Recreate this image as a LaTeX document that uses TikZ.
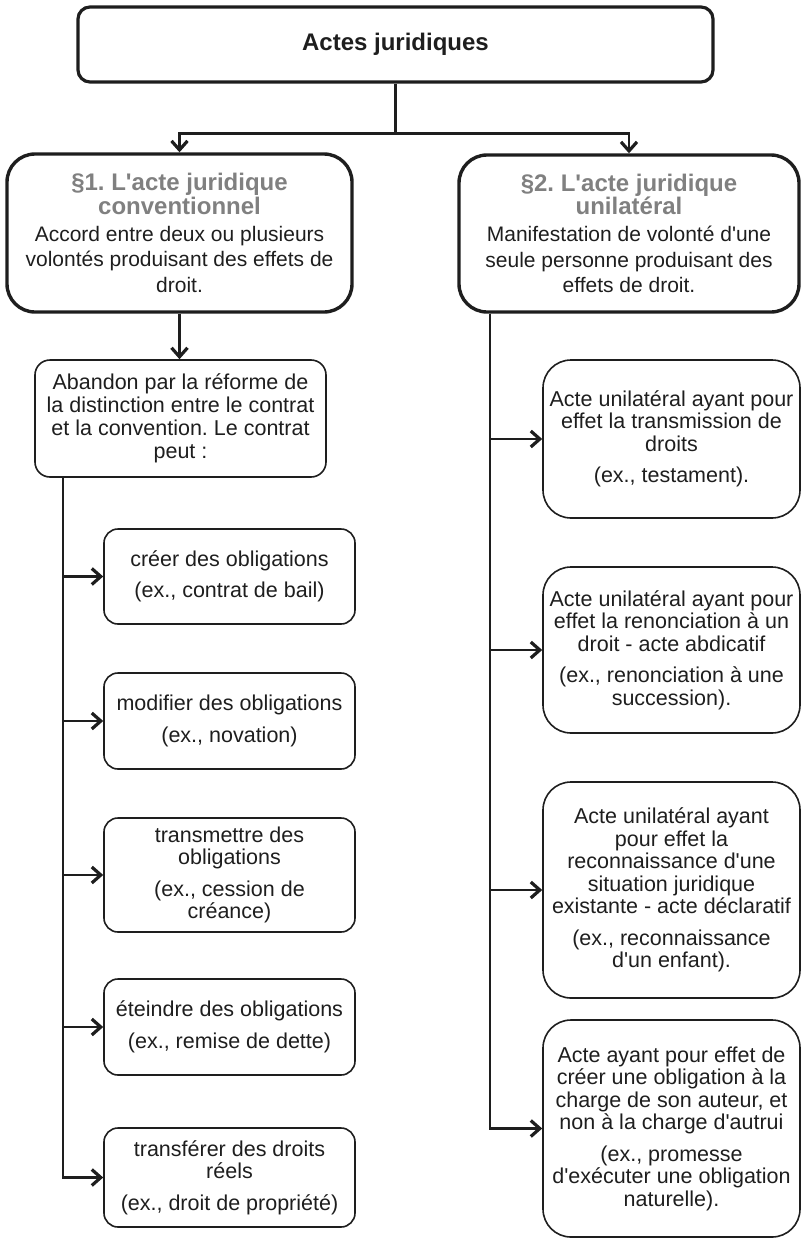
\documentclass[tikz,border=0pt]{standalone}
\usepackage{fontspec}
\newfontfamily\arialf{Liberation Sans}
\usetikzlibrary{arrows.meta}
\definecolor{headgray}{RGB}{128,128,128}
\definecolor{ink}{RGB}{30,30,30}
\newcommand\leafsize{\arialf\fontsize{21.5pt}{22.5pt}\selectfont}
\newcommand\bodysize{\arialf\fontsize{21pt}{25.5pt}\selectfont}
\newcommand\headsize{\arialf\bfseries\fontsize{24pt}{23.5pt}\selectfont}
\newcommand\exgap{\par\vspace{9pt}}
\newcommand\ns{\frenchspacing\spaceskip=\fontdimen2\font\relax\xspaceskip=\fontdimen2\font\relax}
\tikzset{
  conn/.style={draw=ink, line width=2.3pt, -{Straight Barb[length=9pt,width=16pt,line width'=3.2pt]}},
  trunk/.style={draw=ink, line width=2.3pt},
  titlebox/.style={draw=ink, text=ink, line width=3.2pt, rounded corners=12pt, inner sep=0pt, align=center, font=\headsize},
  mainbox/.style={draw=ink, text=ink, line width=3.4pt, rounded corners=28pt, inner sep=0pt, align=center, font=\bodysize},
  leafL/.style={draw=ink, text=ink, line width=1.6pt, rounded corners=14pt, inner sep=0pt, align=center, text width=247pt, minimum width=251pt, font=\leafsize},
  leafR/.style={draw=ink, text=ink, line width=1.6pt, rounded corners=28pt, inner sep=0pt, align=center, text width=253pt, minimum width=257pt, font=\leafsize},
}
\begin{document}
\begin{tikzpicture}[x=1pt,y=-1pt]
\useasboundingbox (0,0) rectangle (802,1239);

% title
\node[titlebox, minimum width=635pt, minimum height=75pt] (T) at (395.5,44.5) {Actes juridiques};

% main boxes
\node[mainbox, minimum width=345pt, minimum height=158pt, text width=335pt] (L1) at (179.5,233)
  {{\headsize\ns\color{headgray}§1. L'acte juridique\\conventionnel\par}\vspace{1.5pt}%
   {\bodysize\ns Accord entre deux ou plusieurs\\volontés produisant des effets de\\droit.\par}};
\node[mainbox, minimum width=340pt, minimum height=157pt, text width=330pt] (R0) at (629,233.5)
  {{\headsize\ns\color{headgray}§2. L'acte juridique\\unilatéral\par}\vspace{1.5pt}%
   {\bodysize\ns Manifestation de volonté d'une\\seule personne produisant des\\effets de droit.\par}};

% left branch
\node[leafL, text width=287pt, minimum width=291pt, minimum height=117pt, rounded corners=15pt, font=\arialf\fontsize{21.5pt}{23pt}\selectfont] (A) at (180.5,418.5)
  {\ns Abandon par la réforme de\\la distinction entre le contrat\\et la convention. Le contrat\\peut :};
\node[leafL, minimum height=95pt] (c1) at (229.5,576.5) {\ns créer des obligations\exgap(ex., contrat de bail)};
\node[leafL, minimum height=96pt] (c2) at (229.5,721) {\ns modifier des obligations\exgap(ex., novation)};
\node[leafL, minimum height=114pt] (c3) at (229.5,875) {\ns transmettre des\\obligations\exgap(ex., cession de\\créance)};
\node[leafL, minimum height=96pt] (c4) at (229.5,1027) {\ns éteindre des obligations\exgap(ex., remise de dette)};
\node[leafL, minimum height=99pt] (c5) at (229.5,1177.5) {\ns transférer des droits\\réels\exgap(ex., droit de propriété)};

% right branch
\node[leafR, minimum height=158pt] (r1) at (671.5,439)
  {\ns Acte unilatéral ayant pour\\effet la transmission de\\droits\exgap(ex., testament).};
\node[leafR, minimum height=166pt] (r2) at (671.5,650)
  {\ns Acte unilatéral ayant pour\\effet la renonciation à un\\droit - acte abdicatif\exgap(ex., renonciation à une\\succession).};
\node[leafR, minimum height=216pt] (r3) at (671.5,890)
  {\ns Acte unilatéral ayant\\pour effet la\\reconnaissance d'une\\situation juridique\\existante - acte déclaratif\exgap(ex., reconnaissance\\d'un enfant).};
\node[leafR, minimum height=217pt] (r4) at (671.5,1128.5)
  {\ns Acte ayant pour effet de\\créer une obligation à la\\charge de son auteur, et\\non à la charge d'autrui\exgap(ex., promesse\\d'exécuter une obligation\\naturelle).};

% connectors
\draw[trunk] (T.south) -- ++(0,50) coordinate (tj);
\draw[conn] (tj) -| (L1.north);
\draw[conn] (tj) -| (R0.north);
\draw[conn] (L1.south) -- (L1.south |- A.north);
\foreach \c in {c1,c2,c3,c4,c5}
  \draw[conn] ([xshift=29pt]A.south west) |- (\c.west);
\foreach \r in {r1,r2,r3,r4}
  \draw[conn] ([xshift=33pt]R0.south west) |- (\r.west);
\end{tikzpicture}
\end{document}
